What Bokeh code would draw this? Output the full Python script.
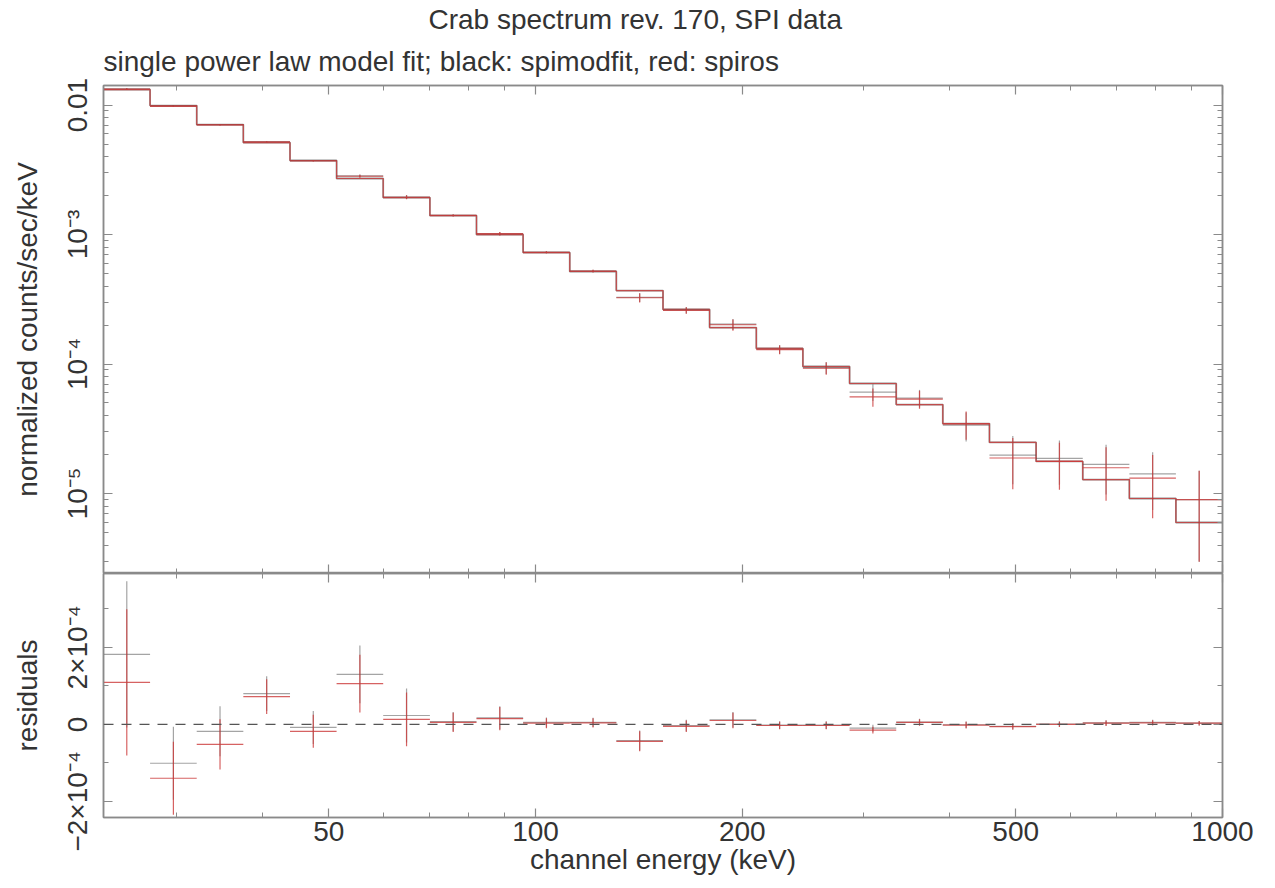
import numpy as np
from bokeh.plotting import figure
from bokeh.layouts import column
from bokeh.models import (Range1d, FixedTicker, CustomJSTickFormatter, LogAxis,
                          LinearAxis, Span, Title)
from bokeh.embed import file_html
from bokeh.resources import INLINE

# ---------------- data ----------------
# energy bin edges (keV), 24 bins
bin_edges = [23.5, 27.47, 32.12, 37.55, 43.91, 51.33, 60.01, 70.18, 82.04, 95.92,
             112.15, 131.1, 153.3, 179.2, 209.6, 245.0, 286.5, 335.0, 391.6, 457.9,
             535.4, 626.0, 731.9, 855.4, 1000.0]

# folded model, normalized counts/sec/keV
model_rate = [0.01318, 0.00991, 0.00707, 0.00513, 0.00373, 0.00271, 0.00193, 0.00140,
              0.00100, 7.26e-4, 5.18e-4, 3.69e-4, 2.64e-4, 1.91e-4, 1.32e-4, 9.57e-5,
              7.07e-5, 4.86e-5, 3.47e-5, 2.48e-5, 1.77e-5, 1.28e-5, 9.15e-6, 5.97e-6]

# data: black = spimodfit, red = spiros
data_spimodfit = [0.01336, 0.00981, 0.00705, 0.00521, 0.00372, 0.00284, 0.00195, 0.001407,
                  0.001017, 7.31e-4, 5.23e-4, 3.27e-4, 2.61e-4, 2.03e-4, 1.30e-4, 9.37e-5,
                  6.07e-5, 5.46e-5, 3.37e-5, 1.98e-5, 1.87e-5, 1.68e-5, 1.415e-5, 8.97e-6]
data_spiros = [0.01327, 0.00977, 0.00702, 0.00520, 0.00371, 0.00282, 0.00194, 0.001405,
               0.001015, 7.29e-4, 5.22e-4, 3.25e-4, 2.59e-4, 2.01e-4, 1.29e-4, 9.27e-5,
               5.57e-5, 5.36e-5, 3.45e-5, 1.88e-5, 1.77e-5, 1.58e-5, 1.315e-5, 8.97e-6]

# 1-sigma errors (counts/sec/keV), same for both
data_err = [1.9e-4, 0.95e-4, 0.65e-4, 0.45e-4, 0.43e-4, 0.75e-4, 0.70e-4, 0.25e-4,
            0.30e-4, 0.13e-4, 0.12e-4, 0.26e-4, 0.15e-4, 0.20e-4, 0.10e-4, 0.10e-4,
            0.09e-4, 0.085e-4, 0.085e-4, 0.08e-4, 0.07e-4, 0.07e-4, 0.067e-4, 0.06e-4]

# residuals (data - model), counts/sec/keV
resid_spimodfit = [1.82e-4, -1.01e-4, -0.18e-4, 0.80e-4, -0.08e-4, 1.30e-4, 0.23e-4, 0.07e-4,
                   0.17e-4, 0.05e-4, 0.05e-4, -0.42e-4, -0.03e-4, 0.12e-4, -0.02e-4, -0.02e-4,
                   -0.10e-4, 0.06e-4, -0.01e-4, -0.05e-4, 0.01e-4, 0.04e-4, 0.05e-4, 0.03e-4]
resid_spiros = [1.09e-4, -1.40e-4, -0.52e-4, 0.72e-4, -0.18e-4, 1.06e-4, 0.13e-4, 0.05e-4,
                0.15e-4, 0.03e-4, 0.04e-4, -0.44e-4, -0.05e-4, 0.10e-4, -0.03e-4, -0.03e-4,
                -0.15e-4, 0.05e-4, -0.02e-4, -0.06e-4, 0.0, 0.03e-4, 0.04e-4, 0.03e-4]

# tick labels
x_ticks = [50, 100, 200, 500, 1000]
x_tick_labels = ["50", "100", "200", "500", "1000"]
y_ticks = [1e-5, 1e-4, 1e-3, 1e-2]
y_tick_labels = ["10\u207b\u2075", "10\u207b\u2074", "10\u207b\u00b3", "0.01"]
r_ticks = [-2e-4, 0.0, 2e-4]
r_tick_labels = ["\u22122\u00d710\u207b\u2074", "0", "2\u00d710\u207b\u2074"]

title_text = "Crab spectrum rev. 170, SPI data"
subtitle_text = "single power law model fit; black: spimodfit, red: spiros"

# ---------------- styling ----------------
FONT = "Liberation Sans"
TXT = "#333333"
FRAME = "#8a8a8a"
RED = "#cc3b3b"
BLACK = "#4a4a4a"
FS = "28px"

x_minor = [30, 40, 60, 70, 80, 90, 300, 400, 600, 700, 800, 900]
y_minor = [m * 10.0 ** e for e in range(-6, -1) for m in range(2, 10)]
r_minor = [-1e-4, 1e-4, 3e-4]

edges = np.array(bin_edges)
lo, hi = edges[:-1], edges[1:]
ctr = np.sqrt(lo * hi)


def fmt(tvals, tlabels, log):
    if log:
        code = """
        for (let i = 0; i < tvals.length; i++) {
            if (Math.abs(Math.log10(tvals[i]) - Math.log10(tick)) < 1e-6) return tlabels[i];
        }
        return "";"""
    else:
        code = """
        for (let i = 0; i < tvals.length; i++) {
            if (Math.abs(tvals[i] - tick) < 1e-9) return tlabels[i];
        }
        return "";"""
    return CustomJSTickFormatter(args=dict(tvals=tvals, tlabels=tlabels), code=code)


def style(ax, ticks, minor, formatter=None):
    ax.ticker = FixedTicker(ticks=ticks, minor_ticks=minor)
    ax.axis_line_color = FRAME
    ax.axis_line_width = 1.5
    ax.major_tick_in = 9
    ax.major_tick_out = 0
    ax.minor_tick_in = 5
    ax.minor_tick_out = 0
    ax.major_tick_line_color = FRAME
    ax.minor_tick_line_color = FRAME
    ax.major_tick_line_width = 1.2
    ax.minor_tick_line_width = 1.0
    if formatter is None:
        ax.formatter = CustomJSTickFormatter(code="return '';")
        ax.major_label_text_font_size = "0px"
        ax.major_label_standoff = 0
    else:
        ax.formatter = formatter
        ax.major_label_text_font = FONT
        ax.major_label_text_font_size = FS
        ax.major_label_text_color = TXT
    ax.axis_label_text_font = FONT
    ax.axis_label_text_font_size = FS
    ax.axis_label_text_color = TXT
    ax.axis_label_text_font_style = "normal"


def base(p):
    p.xgrid.grid_line_color = None
    p.ygrid.grid_line_color = None
    p.outline_line_color = FRAME
    p.outline_line_width = 1.5
    p.background_fill_color = "white"
    p.border_fill_color = "white"


def cross(p, y, err, color, alpha):
    y = np.array(y)
    err = np.array(err)
    p.segment(x0=lo, y0=y, x1=hi, y1=y, line_color=color, line_width=1.2, line_alpha=alpha)
    p.segment(x0=ctr, y0=y - err, x1=ctr, y1=y + err, line_color=color, line_width=1.2,
              line_alpha=alpha)


# ---------------- upper panel ----------------
xr = Range1d(23.5, 1000)
p1 = figure(x_axis_type="log", y_axis_type="log", x_range=xr,
            y_range=Range1d(2.41e-6, 0.01416), title=None,
            frame_width=1119, frame_height=488,
            min_border_left=103, min_border_right=40, min_border_top=85, min_border_bottom=0,
            output_backend="svg", toolbar_location=None)
base(p1)

step_y = model_rate + model_rate[-1:]
p1.step(x=bin_edges, y=step_y, mode="after", line_color=BLACK, line_width=1.8, line_alpha=0.6)
p1.step(x=bin_edges, y=step_y, mode="after", line_color=RED, line_width=1.2, line_alpha=0.8)
cross(p1, data_spimodfit, data_err, BLACK, 0.5)
cross(p1, data_spiros, data_err, RED, 0.8)

style(p1.xaxis[0], x_ticks, x_minor)
style(p1.yaxis[0], y_ticks, y_minor, fmt(y_ticks, y_tick_labels, True))
p1.yaxis[0].axis_label = "normalized counts/sec/keV"
p1.yaxis[0].major_label_orientation = "vertical"
p1.yaxis[0].major_label_standoff = 10
p1.yaxis[0].axis_label_standoff = 17

ax_top = LogAxis()
style(ax_top, x_ticks, x_minor)
p1.add_layout(ax_top, "above")
ax_r1 = LogAxis()
style(ax_r1, y_ticks, y_minor)
p1.add_layout(ax_r1, "right")

p1.add_layout(Title(text=subtitle_text, align="left", standoff=18,
                    text_font=FONT, text_font_size=FS, text_color=TXT,
                    text_font_style="normal"), "above")
p1.add_layout(Title(text=title_text, align="left", offset=325, standoff=0,
                    text_font=FONT, text_font_size=FS, text_color=TXT,
                    text_font_style="normal"), "above")

# ---------------- lower panel (residuals) ----------------
p2 = figure(x_axis_type="log", x_range=xr, y_range=Range1d(-2.42e-4, 3.92e-4), title=None,
            frame_width=1119, frame_height=244,
            min_border_left=103, min_border_right=40, min_border_top=0, min_border_bottom=70,
            output_backend="svg", toolbar_location=None)
base(p2)

p2.add_layout(Span(location=0, dimension="width", line_color="#555555", line_width=1.3,
                   line_dash="10 8"))
cross(p2, resid_spimodfit, data_err, BLACK, 0.5)
cross(p2, resid_spiros, data_err, RED, 0.8)

style(p2.xaxis[0], x_ticks, x_minor, fmt(x_ticks, x_tick_labels, True))
p2.xaxis[0].axis_label = "channel energy (keV)"
p2.xaxis[0].major_label_standoff = 4
p2.xaxis[0].axis_label_standoff = 0
style(p2.yaxis[0], r_ticks, r_minor, fmt(r_ticks, r_tick_labels, False))
p2.yaxis[0].axis_label = "residuals"
p2.yaxis[0].major_label_orientation = "vertical"
p2.yaxis[0].major_label_standoff = 10
p2.yaxis[0].axis_label_standoff = 17

ax_top2 = LogAxis()
style(ax_top2, x_ticks, x_minor)
p2.add_layout(ax_top2, "above")
ax_r2 = LinearAxis()
style(ax_r2, r_ticks, r_minor)
p2.add_layout(ax_r2, "right")

layout = column(p1, p2)
open("out.html", "w").write(file_html(layout, INLINE))
